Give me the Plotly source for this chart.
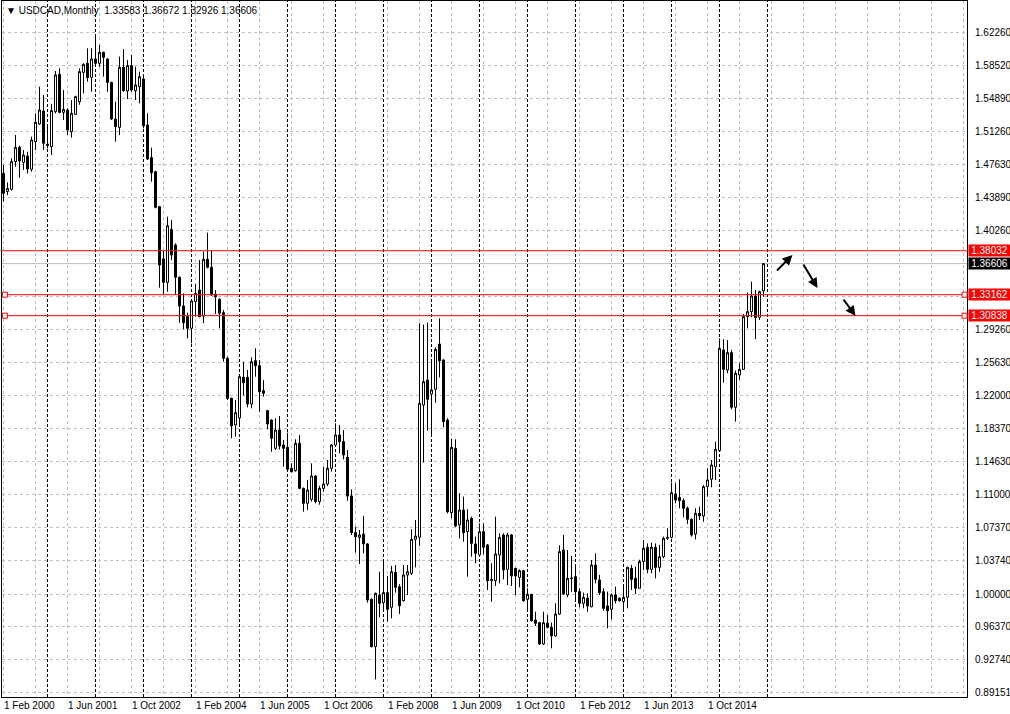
import plotly.graph_objects as go

# ---------------- data (USDCAD monthly, bar 0 = Feb 2000) ----------------
opens = [
    1.4660, 1.4460, 1.4483, 1.4790, 1.4948, 1.4782, 1.4852, 1.4705, 1.5011, 1.5207,
    1.5351, 1.4985, 1.4956, 1.5344, 1.5757, 1.5336, 1.5362, 1.5122, 1.5314, 1.5454,
    1.5779, 1.5879, 1.5724, 1.5927, 1.5879, 1.6001, 1.5927, 1.5668, 1.5262, 1.5170,
    1.5835, 1.5573, 1.5853, 1.5576, 1.5620, 1.5705, 1.5196, 1.4834, 1.4679, 1.4291,
    1.3712, 1.3453, 1.4040, 1.3867, 1.3509, 1.3191, 1.3073, 1.2944, 1.3239, 1.3368,
    1.3080, 1.3708, 1.3619, 1.3324, 1.3265, 1.3117, 1.2611, 1.2168, 1.1873, 1.1950,
    1.2401, 1.2401, 1.2105, 1.2585, 1.2530, 1.2253, 1.2032, 1.1928, 1.1614, 1.1817,
    1.1651, 1.1625, 1.1393, 1.1367, 1.1670, 1.1171, 1.1005, 1.1049, 1.1308, 1.1024,
    1.1171, 1.1219, 1.1393, 1.1651, 1.1762, 1.1688, 1.1515, 1.1086, 1.0680, 1.0628,
    1.0665, 1.0555, 0.9942, 0.9417, 0.9990, 0.9905, 1.0016, 0.9853, 1.0239, 1.0080,
    0.9927, 1.0211, 1.0230, 1.0606, 1.0629, 1.2094, 1.2371, 1.2216, 1.2268, 1.2770,
    1.2593, 1.1928, 1.0902, 1.1614, 1.0765, 1.0931, 1.0691, 1.0839, 1.0555, 1.0433,
    1.0691, 1.0544, 1.0148, 1.0148, 1.0433, 1.0654, 1.0274, 1.0654, 1.0285, 1.0185,
    1.0259, 0.9942, 0.9997, 0.9713, 0.9683, 0.9447, 0.9676, 0.9632, 0.9536, 0.9779,
    1.0488, 0.9990, 1.0171, 1.0193, 1.0027, 0.9897, 0.9953, 0.9860, 1.0322, 1.0156,
    1.0027, 0.9868, 0.9831, 0.9990, 0.9953, 0.9916, 0.9964, 1.0285, 1.0174, 1.0064,
    1.0359, 1.0518, 1.0274, 1.0518, 1.0296, 1.0414, 1.0617, 1.0628, 1.1108, 1.1071,
    1.1035, 1.0950, 1.0828, 1.0665, 1.0894, 1.0865, 1.1190, 1.1271, 1.1411, 1.1588,
    1.2704, 1.2482, 1.2674, 1.2069, 1.2427, 1.2489, 1.3073, 1.3128, 1.3302, 1.3065,
    1.33583,
]
highs = [
    1.4753, 1.4560, 1.4827, 1.5085, 1.4967, 1.4919, 1.4900, 1.5067, 1.5325, 1.5620,
    1.5528, 1.5177, 1.5429, 1.5794, 1.5824, 1.5583, 1.5380, 1.5473, 1.5521, 1.5824,
    1.5879, 1.6045, 1.6045, 1.6185, 1.6082, 1.6008, 1.5934, 1.5676, 1.5454, 1.5953,
    1.6038, 1.5916, 1.5971, 1.5842, 1.5787, 1.5757, 1.5325, 1.4945, 1.4690, 1.4300,
    1.3800, 1.4180, 1.4144, 1.3885, 1.3516, 1.3331, 1.3117, 1.3260, 1.3435, 1.3700,
    1.3793, 1.4003, 1.3811, 1.3368, 1.3276, 1.3147, 1.2630, 1.2175, 1.2150, 1.2427,
    1.2574, 1.2482, 1.2622, 1.2722, 1.2593, 1.2371, 1.2039, 1.1936, 1.1947, 1.1973,
    1.1707, 1.1788, 1.1448, 1.1714, 1.1762, 1.1180, 1.1264, 1.1448, 1.1319, 1.1200,
    1.1411, 1.1485, 1.1662, 1.1891, 1.1873, 1.1817, 1.1596, 1.1160, 1.0747, 1.0710,
    1.0865, 1.0565, 0.9953, 1.0016, 1.0248, 1.0370, 1.0200, 1.0311, 1.0322, 1.0110,
    1.0322, 1.0322, 1.0717, 1.0821, 1.3000, 1.2985, 1.3006, 1.2600, 1.2733, 1.3054,
    1.2600, 1.1947, 1.1720, 1.1714, 1.1116, 1.1079, 1.0939, 1.0857, 1.0636, 1.0784,
    1.0784, 1.0555, 1.0340, 1.0857, 1.0673, 1.0673, 1.0680, 1.0665, 1.0290, 1.0274,
    1.0267, 1.0064, 1.0001, 0.9805, 0.9694, 0.9805, 0.9768, 0.9683, 0.9897, 1.0540,
    1.0654, 1.0488, 1.0422, 1.0303, 1.0064, 1.0016, 1.0008, 1.0377, 1.0451, 1.0211,
    1.0064, 1.0027, 1.0008, 1.0082, 0.9964, 1.0100, 1.0303, 1.0322, 1.0303, 1.0380,
    1.0599, 1.0562, 1.0569, 1.0562, 1.0544, 1.0636, 1.0728, 1.1234, 1.1227, 1.1271,
    1.1060, 1.0968, 1.0839, 1.0950, 1.0968, 1.1208, 1.1393, 1.1485, 1.1688, 1.2833,
    1.2822, 1.2814, 1.2704, 1.2475, 1.2556, 1.3102, 1.3339, 1.3460, 1.3368, 1.3361,
    1.36672,
]
lows = [
    1.4347, 1.4420, 1.4469, 1.4734, 1.4613, 1.4697, 1.4660, 1.4679, 1.4919, 1.5196,
    1.4919, 1.4937, 1.4863, 1.5325, 1.5325, 1.5251, 1.5085, 1.5056, 1.5307, 1.5420,
    1.5547, 1.5676, 1.5565, 1.5842, 1.5842, 1.5731, 1.5565, 1.5251, 1.5011, 1.5085,
    1.5565, 1.5484, 1.5565, 1.5473, 1.5436, 1.5159, 1.4808, 1.4568, 1.4273, 1.3394,
    1.3313, 1.3350, 1.3700, 1.3313, 1.3006, 1.2933, 1.2833, 1.2777, 1.3073, 1.3065,
    1.2999, 1.3608, 1.3302, 1.3102, 1.2944, 1.2574, 1.2150, 1.1725, 1.1744, 1.1850,
    1.2200, 1.2068, 1.2057, 1.2408, 1.2020, 1.2187, 1.1825, 1.1577, 1.1596, 1.1603,
    1.1411, 1.1367, 1.1345, 1.1356, 1.1160, 1.0913, 1.0931, 1.1024, 1.1005, 1.0990,
    1.1134, 1.1197, 1.1356, 1.1633, 1.1559, 1.1492, 1.1035, 1.0654, 1.0459, 1.0333,
    1.0451, 0.9905, 0.9410, 0.9055, 0.9742, 0.9816, 0.9694, 0.9731, 1.0016, 0.9780,
    0.9916, 0.9990, 1.0211, 1.0296, 1.0533, 1.1456, 1.1810, 1.1744, 1.2120, 1.2400,
    1.1847, 1.0894, 1.0839, 1.0739, 1.0617, 1.0580, 1.0193, 1.0414, 1.0341, 1.0420,
    1.0440, 1.0045, 0.9916, 1.0089, 1.0119, 1.0163, 1.0100, 1.0089, 0.9990, 1.0075,
    0.9916, 0.9805, 0.9694, 0.9646, 0.9436, 0.9436, 0.9621, 0.9399, 0.9528, 0.9768,
    0.9990, 0.9964, 1.0027, 0.9942, 0.9853, 0.9842, 0.9805, 0.9853, 1.0119, 0.9990,
    0.9816, 0.9620, 0.9720, 0.9897, 0.9916, 0.9816, 0.9842, 1.0045, 1.0001, 1.0063,
    1.0267, 1.0230, 1.0230, 1.0174, 1.0248, 1.0396, 1.0599, 1.0617, 1.1005, 1.0950,
    1.0850, 1.0776, 1.0636, 1.0606, 1.0820, 1.0802, 1.1079, 1.1182, 1.1264, 1.1580,
    1.2342, 1.2445, 1.2046, 1.1910, 1.2371, 1.2482, 1.2944, 1.3065, 1.2822, 1.3036,
    1.32926,
]
closes = [
    1.4440, 1.4494, 1.4790, 1.4948, 1.4797, 1.4863, 1.4708, 1.5030, 1.5225, 1.5362,
    1.4993, 1.4971, 1.5355, 1.5750, 1.5336, 1.5369, 1.5140, 1.5325, 1.5510, 1.5787,
    1.5868, 1.5720, 1.5927, 1.5879, 1.6001, 1.5945, 1.5668, 1.5262, 1.5177, 1.5835,
    1.5576, 1.5853, 1.5584, 1.5639, 1.5731, 1.5188, 1.4819, 1.4668, 1.4284, 1.3645,
    1.3453, 1.4080, 1.3756, 1.3509, 1.3191, 1.3006, 1.2944, 1.3246, 1.3331, 1.3073,
    1.3708, 1.3619, 1.3313, 1.3294, 1.3110, 1.2611, 1.2168, 1.1862, 1.2010, 1.2408,
    1.2342, 1.2105, 1.2574, 1.2530, 1.2242, 1.2224, 1.1884, 1.1725, 1.1817, 1.1640,
    1.1614, 1.1382, 1.1356, 1.1670, 1.1171, 1.1005, 1.1153, 1.1308, 1.1024, 1.1171,
    1.1219, 1.1393, 1.1651, 1.1762, 1.1688, 1.1540, 1.1086, 1.0680, 1.0636, 1.0654,
    1.0555, 0.9934, 0.9417, 1.0008, 0.9897, 1.0016, 0.9831, 1.0248, 1.0075, 0.9870,
    1.0211, 1.0248, 1.0606, 1.0643, 1.2113, 1.2353, 1.2157, 1.2261, 1.2711, 1.2585,
    1.1910, 1.0913, 1.1625, 1.0754, 1.0931, 1.0680, 1.0821, 1.0562, 1.0451, 1.0691,
    1.0518, 1.0148, 1.0163, 1.0444, 1.0628, 1.0267, 1.0654, 1.0200, 1.0200, 1.0259,
    0.9927, 0.9997, 0.9705, 0.9676, 0.9447, 0.9683, 0.9632, 0.9536, 0.9779, 1.0470,
    1.0001, 1.0174, 1.0178, 1.0027, 0.9897, 0.9964, 0.9868, 1.0322, 1.0163, 1.0016,
    0.9842, 0.9816, 0.9990, 0.9927, 0.9927, 0.9964, 1.0296, 1.0163, 1.0064, 1.0359,
    1.0507, 1.0274, 1.0518, 1.0296, 1.0414, 1.0617, 1.0628, 1.1123, 1.1042, 1.1035,
    1.0950, 1.0828, 1.0654, 1.0894, 1.0865, 1.1190, 1.1264, 1.1430, 1.1603, 1.2722,
    1.2489, 1.2674, 1.2069, 1.2445, 1.2489, 1.3073, 1.3128, 1.3302, 1.3065, 1.3350,
    1.36606,
]

# x tick labels (every 16 bars starting at bar 0)
x_tick_labels = ["1 Feb 2000", "1 Jun 2001", "1 Oct 2002", "1 Feb 2004", "1 Jun 2005",
                 "1 Oct 2006", "1 Feb 2008", "1 Jun 2009", "1 Oct 2010", "1 Feb 2012",
                 "1 Jun 2013", "1 Oct 2014"]
x_label_step = 16
x_grid_step = 8
first_january_bar = 11          # Jan 2001
# y-axis grid / tick values
y_ticks = [1.62260, 1.58520, 1.54890, 1.51260, 1.47630, 1.43890, 1.40260, 1.36630,
           1.32920, 1.29260, 1.25630, 1.22000, 1.18370, 1.14630, 1.11000, 1.07370,
           1.03740, 1.00000, 0.96370, 0.92740, 0.89151]
hidden_ticks = [1.36630, 1.32920]   # covered by the level labels
# horizontal levels drawn on the chart
red_levels = [1.38032, 1.33162, 1.30838]
handle_levels = [1.33162, 1.30838]
bid_price = 1.36606
header = "USDCAD,Monthly  1.33583 1.36672 1.32926 1.36606"

n = len(closes)
x = list(range(n))
FONT = "Liberation Sans, Arial, sans-serif"

fig = go.Figure()
fig.add_trace(go.Candlestick(
    x=x, open=opens, high=highs, low=lows, close=closes,
    increasing=dict(line=dict(color="black", width=1), fillcolor="white"),
    decreasing=dict(line=dict(color="black", width=1), fillcolor="black"),
    whiskerwidth=0, hoverinfo="skip", showlegend=False,
))

shapes = []
# yearly period separators
for b in range(first_january_bar, n + 2, 12):
    shapes.append(dict(type="line", xref="x", yref="paper", x0=b, x1=b, y0=0, y1=1,
                       line=dict(color="black", width=1, dash="3px,2px"), layer="below"))
# bid line
shapes.append(dict(type="line", xref="paper", yref="y", x0=0, x1=1, y0=bid_price, y1=bid_price,
                   line=dict(color="#c0c0c0", width=1), layer="below"))
# red horizontal levels
for lv in red_levels:
    shapes.append(dict(type="line", xref="paper", yref="y", x0=0, x1=1, y0=lv, y1=lv,
                       line=dict(color="#ff0000", width=1), layer="above"))
# selection handles on lines
for lv in handle_levels:
    for px in (0.003, 0.9975):
        shapes.append(dict(type="rect", xref="paper", yref="y", xsizemode="pixel", ysizemode="pixel",
                           xanchor=px, yanchor=lv, x0=-2.5, x1=2.5, y0=-2.5, y1=2.5,
                           line=dict(color="#ff0000", width=1), fillcolor="white", layer="above"))

annotations = []
# header text
annotations.append(dict(xref="paper", yref="paper", x=0, y=1, xanchor="left", yanchor="top",
                        xshift=2, yshift=-2, text="\u25BC " + header, showarrow=False,
                        font=dict(family=FONT, size=10, color="black")))
# x labels (left aligned at bar position)
for k, lab in enumerate(x_tick_labels):
    annotations.append(dict(xref="x", yref="paper", x=k * x_label_step, y=0, xanchor="left",
                            yanchor="top", xshift=-2, yshift=-1, text=lab, showarrow=False,
                            font=dict(family=FONT, size=10, color="black")))
# price labels on the right
for lv, bg in [(red_levels[0], "#ff0000"), (bid_price, "black"),
               (red_levels[1], "#ff0000"), (red_levels[2], "#ff0000")]:
    annotations.append(dict(xref="paper", yref="y", x=1, y=lv, xanchor="left", yanchor="middle",
                            xshift=1, text="%.5f" % lv, showarrow=False, bgcolor=bg,
                            width=41, align="center", borderpad=0,
                            font=dict(family=FONT, size=10, color="white")))
# arrows (direction sketch)
arrow_specs = [(197.25, 1.3756, -17, 17), (203.5, 1.3390, -15, -25), (213.0, 1.3080, -13, -18)]
for ax_, ay_, dx, dy in arrow_specs:
    annotations.append(dict(xref="x", yref="y", x=ax_, y=ay_, ax=dx, ay=dy, text="",
                            showarrow=True, arrowhead=2, arrowsize=1, arrowwidth=2,
                            arrowcolor="black"))

fig.update_layout(
    width=1010, height=714,
    margin=dict(l=2, r=43, t=1, b=17, autoexpand=False),
    paper_bgcolor="white", plot_bgcolor="white",
    shapes=shapes, annotations=annotations,
    font=dict(family=FONT, size=10, color="black"),
    showlegend=False, boxgap=0.5, boxgroupgap=0.0,
)
fig.update_xaxes(
    range=[-0.375, 240.875], rangeslider=dict(visible=False), automargin=False,
    tickvals=list(range(0, 242, x_grid_step)), showticklabels=False, ticks="",
    showgrid=True, gridcolor="#c0c0c0", gridwidth=1, griddash="3px,3px",
    showline=True, linecolor="black", linewidth=1, mirror=True, zeroline=False,
)
fig.update_yaxes(
    range=[0.88598, 1.65694], side="right", automargin=False,
    tickvals=y_ticks,
    ticktext=["" if v in hidden_ticks else "%.5f" % v for v in y_ticks], ticks="",
    ticklabelstandoff=5,
    showgrid=True, gridcolor="#c0c0c0", gridwidth=1, griddash="3px,3px",
    showline=True, linecolor="black", linewidth=1, mirror=True, zeroline=False,
    tickfont=dict(family=FONT, size=10, color="black"),
)

fig.write_html("out.html", post_script="document.body.style.margin='0px';",
               config={"displayModeBar": False})
